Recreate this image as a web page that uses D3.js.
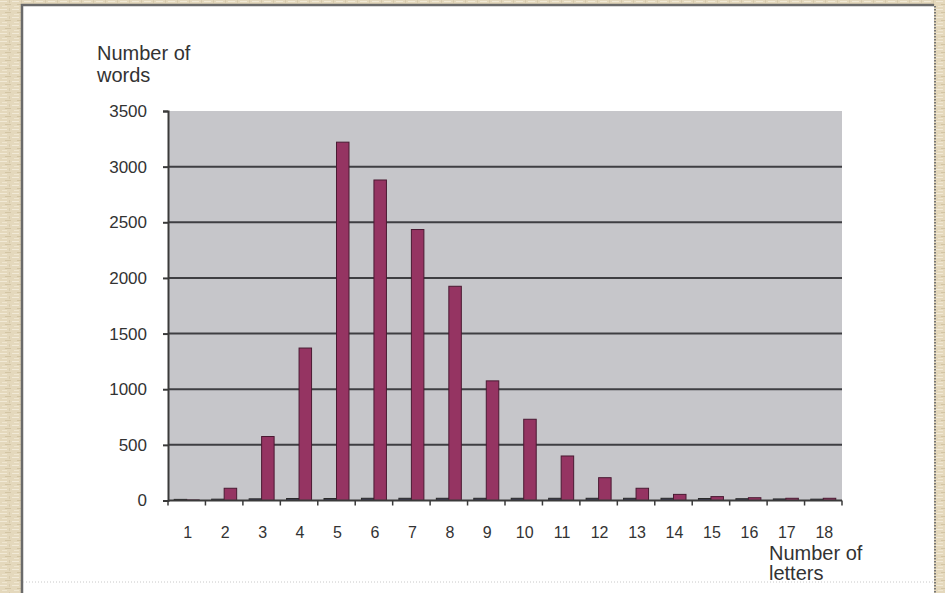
<!DOCTYPE html>
<html>
<head>
<meta charset="utf-8">
<script src="https://cdn.jsdelivr.net/npm/d3@7"></script>
<style>
  html, body { margin: 0; padding: 0; background: #e4d8bc; }
  svg { display: block; }
  text { font-family: "Liberation Sans", Arial, sans-serif; fill: #333; }
</style>
</head>
<body>
<svg id="chart" width="945" height="593"></svg>
<script>
// Word-length distribution: how many words have a given number of letters
const letterCounts = ["1","2","3","4","5","6","7","8","9","10","11","12","13","14","15","16","17","18"];
const seriesNames = ["minor", "words"];
const minorCounts = [10, 12, 15, 18, 18, 20, 20, 20, 20, 20, 20, 20, 20, 20, 18, 16, 14, 12];
const wordCounts = [5, 110, 575, 1370, 3220, 2880, 2435, 1925, 1075, 730, 400, 205, 110, 55, 35, 25, 20, 20];
const yTickValues = [0, 500, 1000, 1500, 2000, 2500, 3000, 3500];
const yTitle = ["Number of", "words"];
const xTitle = ["Number of", "letters"];

const svg = d3.select("#chart");
const W = 945, H = 593;

// ---- textured slide background ----
const defs = svg.append("defs");
const pat = defs.append("pattern")
  .attr("id", "linen").attr("patternUnits", "userSpaceOnUse")
  .attr("width", 12).attr("height", 8);
pat.append("rect").attr("width", 12).attr("height", 8).attr("fill", "#e4d8bc");
pat.append("rect").attr("x", 0).attr("y", 1).attr("width", 7).attr("height", 1).attr("fill", "#f1e9d6");
pat.append("rect").attr("x", 5).attr("y", 4).attr("width", 6).attr("height", 1).attr("fill", "#d3c5a4");
pat.append("rect").attr("x", 2).attr("y", 6).attr("width", 5).attr("height", 1).attr("fill", "#efe6d0");
pat.append("rect").attr("x", 9).attr("y", 0).attr("width", 1).attr("height", 3).attr("fill", "#d8cbad");
svg.append("rect").attr("width", W).attr("height", H).attr("fill", "url(#linen)");

// ---- white card ----
const card = { x0: 23, y0: 6, x1: 934, y1: 600 };
svg.append("rect")
  .attr("x", card.x0).attr("y", card.y0)
  .attr("width", card.x1 - card.x0).attr("height", card.y1 - card.y0)
  .attr("fill", "#ffffff");
svg.append("path")
  .attr("d", `M${card.x0 - 1},${H} V${card.y0 - 1} H${card.x1}`)
  .attr("fill", "none").attr("stroke", "#6a6a6a").attr("stroke-width", 2.5);
svg.append("line")
  .attr("x1", card.x1 + 1).attr("x2", card.x1 + 1).attr("y1", card.y0).attr("y2", H)
  .attr("stroke", "#777").attr("stroke-width", 2).attr("stroke-dasharray", "1.5,1.5");
svg.append("line")
  .attr("x1", card.x0).attr("x2", card.x1).attr("y1", 582).attr("y2", 582)
  .attr("stroke", "#c8c8c8").attr("stroke-width", 1).attr("stroke-dasharray", "1,2");

// ---- plot area ----
const plot = { left: 168, right: 842, top: 111, bottom: 500.5 };

const x = d3.scaleBand()
  .domain(letterCounts)
  .range([plot.left, plot.right])
  .paddingInner(0).paddingOuter(0);
const bw = x.bandwidth();
const x1 = d3.scaleBand()
  .domain(seriesNames)
  .range([bw / 2 - 12.5, bw / 2 + 12.5]);

const y = d3.scaleLinear()
  .domain([0, 3500])
  .range([plot.bottom, plot.top]);

svg.append("rect")
  .attr("x", plot.left).attr("y", plot.top)
  .attr("width", plot.right - plot.left).attr("height", plot.bottom - plot.top)
  .attr("fill", "#c6c6ca");

// horizontal gridlines
svg.append("g").selectAll("line")
  .data(yTickValues.filter(v => v > 0 && v < 3500))
  .join("line")
  .attr("x1", plot.left).attr("x2", plot.right)
  .attr("y1", d => y(d)).attr("y2", d => y(d))
  .attr("stroke", "#3e3e42").attr("stroke-width", 2);

// bars
const rows = letterCounts.map((c, i) => ({ cat: c, minor: minorCounts[i], words: wordCounts[i] }));
const groups = svg.append("g").selectAll("g")
  .data(rows).join("g")
  .attr("transform", d => `translate(${x(d.cat)},0)`);
groups.selectAll("rect")
  .data(d => seriesNames.map(k => ({ key: k, value: d[k] })))
  .join("rect")
  .attr("x", d => x1(d.key))
  .attr("width", x1.bandwidth())
  .attr("y", d => y(d.value))
  .attr("height", d => y(0) - y(d.value))
  .attr("fill", d => d.key === "words" ? "#953462" : "#3a3a55")
  .attr("stroke", d => d.key === "words" ? "#4a1a32" : "#2a2a2a")
  .attr("stroke-width", 1);

// y axis
const yAxis = svg.append("g")
  .attr("transform", `translate(${plot.left},0)`)
  .call(d3.axisLeft(y).tickValues(yTickValues).tickSize(5).tickPadding(16).tickFormat(d3.format("d")));
yAxis.select(".domain").attr("stroke", "#3a3a3a").attr("stroke-width", 2);
yAxis.selectAll(".tick line").attr("stroke", "#3a3a3a").attr("stroke-width", 2);
yAxis.selectAll(".tick text")
  .attr("font-size", 17).attr("fill", "#333")
  .style("font-family", "'Liberation Sans', Arial, sans-serif");

// x axis: baseline with ticks at the category boundaries
const xAxisG = svg.append("g");
xAxisG.append("line")
  .attr("x1", plot.left).attr("x2", plot.right)
  .attr("y1", y(0)).attr("y2", y(0))
  .attr("stroke", "#3a3a3a").attr("stroke-width", 2);
const boundaries = letterCounts.map(c => x(c)).concat([x(letterCounts[letterCounts.length - 1]) + bw]);
xAxisG.selectAll("line.tk")
  .data(boundaries).join("line").attr("class", "tk")
  .attr("x1", d => d).attr("x2", d => d)
  .attr("y1", y(0)).attr("y2", y(0) + 5)
  .attr("stroke", "#3a3a3a").attr("stroke-width", 1.5);
xAxisG.selectAll("text")
  .data(letterCounts).join("text")
  .attr("x", d => x(d) + bw / 2 + 1)
  .attr("y", 538)
  .attr("text-anchor", "middle")
  .attr("font-size", 16)
  .text(d => d);

// axis titles
const yt = svg.append("text").attr("x", 97).attr("y", 60).attr("font-size", 20);
yt.selectAll("tspan").data(yTitle).join("tspan")
  .attr("x", 97).attr("dy", (d, i) => i === 0 ? 0 : 22).text(d => d);
const xt = svg.append("text").attr("x", 769).attr("y", 560).attr("font-size", 20);
xt.selectAll("tspan").data(xTitle).join("tspan")
  .attr("x", 769).attr("dy", (d, i) => i === 0 ? 0 : 20).text(d => d);
</script>
</body>
</html>
